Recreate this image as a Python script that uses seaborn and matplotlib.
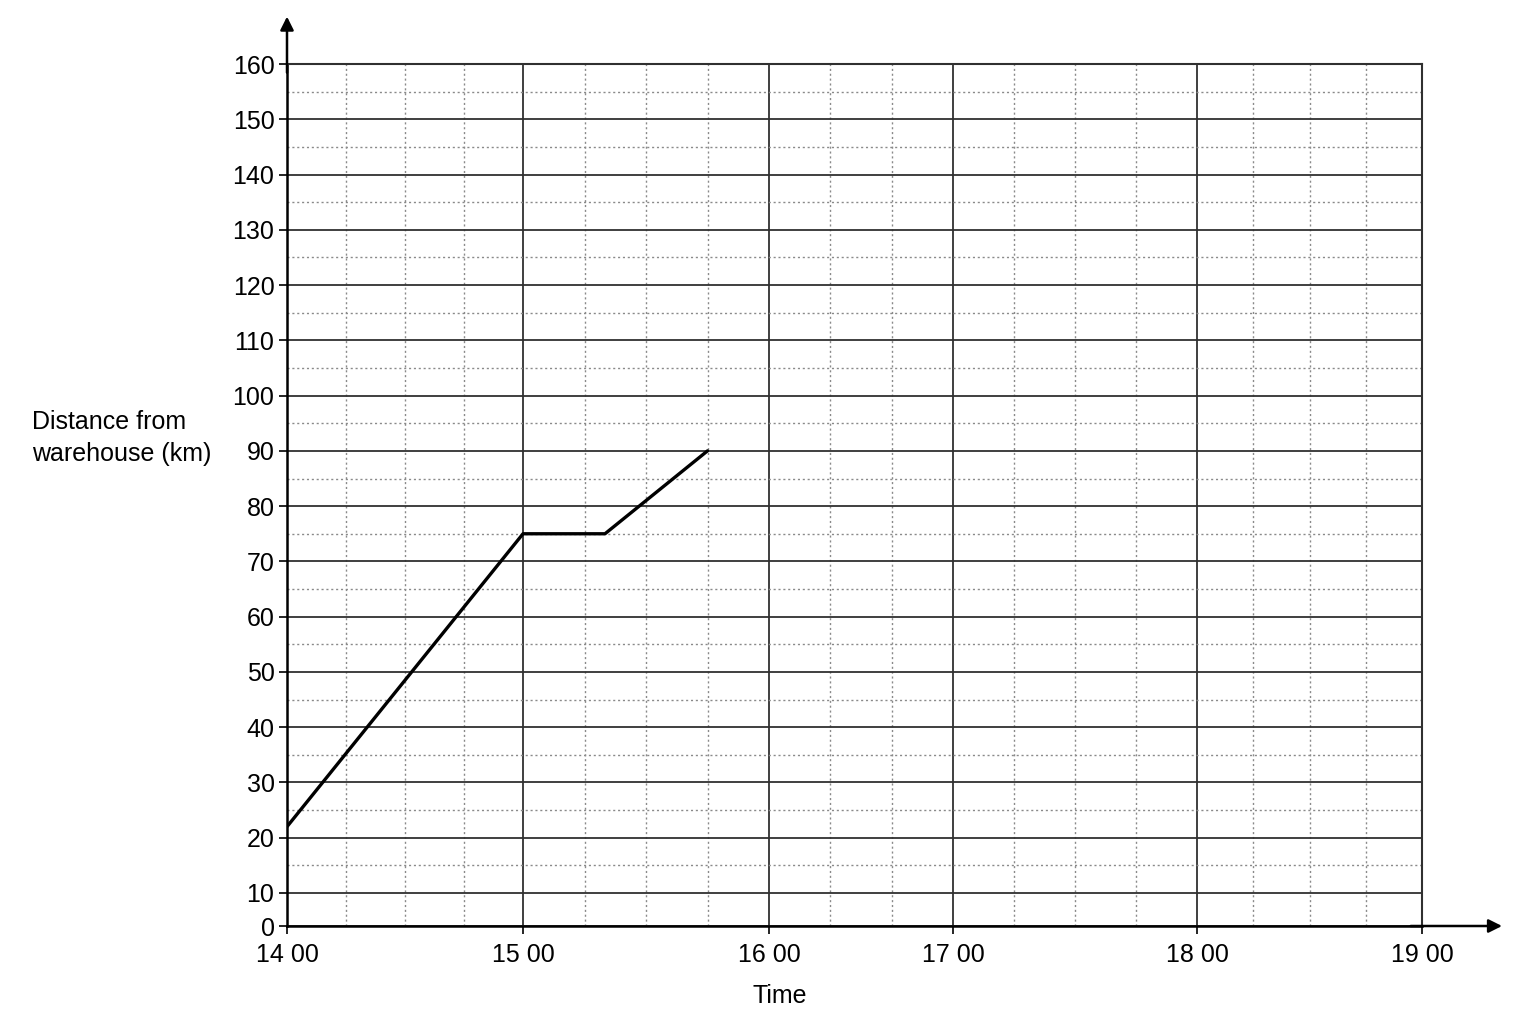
import numpy as np
import seaborn as sns
import matplotlib.pyplot as plt
from matplotlib.scale import FuncScale

# journey data (time in hours, distance in km)
times = [14.0, 15.0, 15 + 20 / 60, 15.75]
distances = [22, 75, 75, 90]

hour_ticks = [14, 15, 16, 17, 18, 19]
hour_labels = ["14 00", "15 00", "16 00", "17 00", "18 00", "19 00"]
minor_hours = [14.25, 14.5, 14.75, 15.25, 15.5, 15.75, 16 + 1 / 3, 16 + 2 / 3,
               17.25, 17.5, 17.75, 18.25, 18.5, 18.75]
dist_ticks = list(range(0, 170, 10))
minor_dist = list(range(15, 160, 10))

# the printed grid is not evenly spaced, so use piecewise scales
x_knots = [10, 14, 15, 16, 17, 18, 19, 23]
x_pos = [-944, 0, 236, 482, 666, 910, 1135, 2035]
y_knots = [-10, 0, 10, 160, 200]
y_pos = [-33, 0, 33, 862, 1083]


def piecewise(a, b):
    return (lambda v: np.interp(v, a, b), lambda v: np.interp(v, b, a))


sns.set_style("white")
plt.rcParams["font.family"] = ["Liberation Sans", "DejaVu Sans"]
plt.rcParams["text.color"] = "black"
plt.rcParams["axes.labelcolor"] = "black"
plt.rcParams["xtick.color"] = "black"
plt.rcParams["ytick.color"] = "black"

fig = plt.figure(figsize=(15.36, 10.24), dpi=100)
ax = fig.add_axes([287 / 1536, 1 - 926 / 1024, (1422 - 287) / 1536, (926 - 64) / 1024])

ax.set_xscale(FuncScale(ax.xaxis, piecewise(x_knots, x_pos)))
ax.set_yscale(FuncScale(ax.yaxis, piecewise(y_knots, y_pos)))

sns.lineplot(x=times, y=distances, color="black", linewidth=2.4, ax=ax, zorder=5)

ax.set_xlim(14, 19)
ax.set_ylim(0, 160)
ax.set_xticks(hour_ticks)
ax.set_xticklabels(hour_labels)
ax.set_yticks(dist_ticks)
ax.set_xticks(minor_hours, minor=True)
ax.set_yticks(minor_dist, minor=True)

ax.grid(True, which="major", color="#303030", linewidth=1.3, linestyle="-")
ax.grid(True, which="minor", color="#8a8a8a", linewidth=1.0, linestyle=(0, (1.5, 2)))
ax.set_axisbelow(True)

ax.tick_params(axis="both", which="major", labelsize=18, length=6, width=1.2,
               color="black", labelcolor="black", direction="out", pad=3,
               left=True, bottom=True)
ax.tick_params(axis="both", which="minor", length=0)
ax.tick_params(axis="x", pad=6)

for side in ["top", "right"]:
    ax.spines[side].set_color("#303030")
    ax.spines[side].set_linewidth(1.5)
for side in ["left", "bottom"]:
    ax.spines[side].set_color("black")
    ax.spines[side].set_linewidth(1.8)

# axis arrows
ax.annotate("", xy=(0, 1.055), xytext=(0, 0.99), xycoords="axes fraction",
            arrowprops=dict(arrowstyle="-|>", color="black", lw=1.8,
                            mutation_scale=20, shrinkA=0, shrinkB=0))
ax.annotate("", xy=(1.0705, 0), xytext=(0.99, 0), xycoords="axes fraction",
            arrowprops=dict(arrowstyle="-|>", color="black", lw=1.8,
                            mutation_scale=20, shrinkA=0, shrinkB=0))

ax.set_xlabel("Time", fontsize=18, color="black")
ax.xaxis.set_label_coords(0.434, -0.067)
ax.set_ylabel("Distance from\nwarehouse (km)", fontsize=18, rotation=0, color="black",
              ha="left", va="center", linespacing=1.4)
ax.yaxis.set_label_coords(-0.2247, 0.566)

fig.savefig("out.png", dpi=100, facecolor="white")
